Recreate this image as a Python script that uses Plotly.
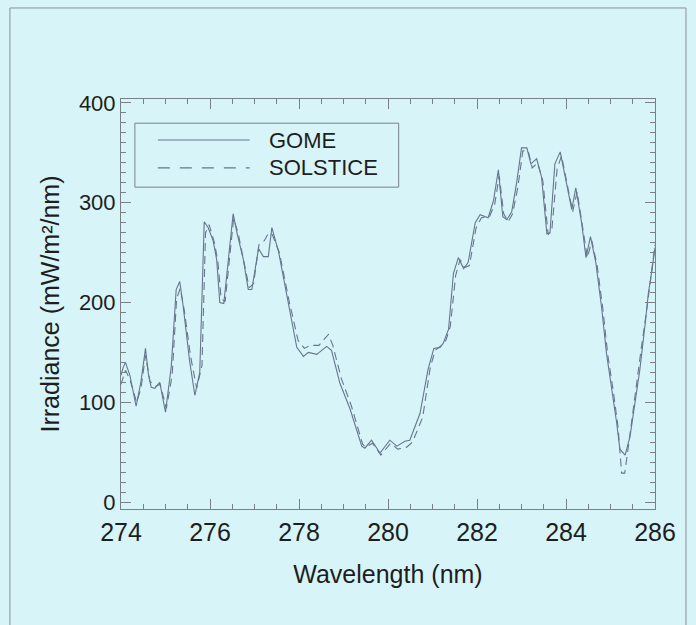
import plotly.graph_objects as go

# GOME solar irradiance spectrum
gome_wl = [274.00, 274.05, 274.10, 274.20, 274.34, 274.45, 274.55, 274.62, 274.68, 274.76,
           274.87, 275.00, 275.13, 275.24, 275.32, 275.39, 275.54, 275.66, 275.77, 275.84,
           275.87, 275.96, 276.07, 276.15, 276.22, 276.31, 276.52, 276.61, 276.75, 276.86,
           276.94, 277.09, 277.20, 277.31, 277.39, 277.54, 277.76, 277.95, 278.10, 278.21,
           278.40, 278.62, 278.73, 278.92, 279.15, 279.41, 279.48, 279.63, 279.82, 280.04,
           280.20, 280.38, 280.49, 280.72, 280.90, 281.03, 281.17, 281.24, 281.36, 281.47,
           281.58, 281.70, 281.80, 281.96, 282.07, 282.25, 282.37, 282.48, 282.58, 282.67,
           282.78, 282.89, 283.00, 283.12, 283.21, 283.34, 283.45, 283.57, 283.64, 283.75,
           283.87, 284.13, 284.22, 284.35, 284.45, 284.55, 284.67, 284.80, 284.91, 285.03,
           285.14, 285.21, 285.33, 285.44, 285.55, 285.66, 285.78, 285.85, 285.93, 286.00]
gome_irr = [127, 135, 140, 127, 96, 121, 154, 127, 115, 114,
            120, 90, 136, 213, 221, 199, 142, 107, 130, 253,
            281, 275, 262, 243, 200, 199, 289, 269, 243, 213,
            213, 254, 246, 246, 275, 251, 199, 155, 146, 150,
            148, 156, 152, 119, 93, 56, 54, 62, 49, 62,
            56, 61, 62, 89, 133, 154, 155, 159, 173, 229,
            245, 234, 240, 280, 288, 285, 302, 333, 286, 283,
            291, 320, 355, 355, 339, 344, 326, 269, 270, 339,
            351, 293, 315, 280, 245, 266, 240, 195, 149, 115,
            79, 53, 47, 66, 102, 133, 179, 209, 232, 255]

# SOLSTICE reference spectrum
sol_wl = [274.00, 274.10, 274.20, 274.35, 274.45, 274.55, 274.65, 274.78, 274.88, 275.02,
          275.15, 275.25, 275.33, 275.42, 275.56, 275.70, 275.82, 275.90, 275.98, 276.10,
          276.18, 276.25, 276.34, 276.53, 276.63, 276.77, 276.88, 276.98, 277.10, 277.22,
          277.32, 277.40, 277.56, 277.78, 277.98, 278.12, 278.25, 278.45, 278.66, 278.76,
          278.95, 279.18, 279.43, 279.50, 279.65, 279.84, 280.06, 280.22, 280.42, 280.55,
          280.78, 280.95, 281.06, 281.20, 281.30, 281.40, 281.52, 281.62, 281.72, 281.83,
          281.98, 282.10, 282.28, 282.40, 282.50, 282.60, 282.70, 282.80, 282.92, 283.03,
          283.15, 283.24, 283.36, 283.48, 283.60, 283.68, 283.80, 283.90, 284.15, 284.25,
          284.38, 284.48, 284.58, 284.70, 284.83, 284.94, 285.06, 285.17, 285.25, 285.32,
          285.40, 285.50, 285.60, 285.70, 285.80, 285.90, 286.00]
sol_irr = [118, 132, 123, 100, 114, 147, 121, 116, 118, 94,
           127, 204, 214, 193, 147, 114, 137, 270, 278, 260,
           240, 204, 201, 284, 270, 240, 215, 219, 258, 262,
           270, 268, 250, 201, 162, 154, 157, 157, 168, 157,
           124, 96, 58, 55, 59, 47, 59, 53, 55, 60,
           85, 135, 152, 157, 162, 176, 227, 243, 235, 237,
           275, 285, 286, 299, 327, 289, 281, 289, 316, 352,
           352, 335, 340, 322, 268, 272, 334, 347, 291, 311,
           275, 245, 262, 237, 193, 147, 112, 75, 29, 29,
           55, 91, 127, 157, 188, 224, 258]

series_names = ["GOME", "SOLSTICE"]
x_ticks = [274, 276, 278, 280, 282, 284, 286]
y_ticks = [0, 100, 200, 300, 400]

BG = "#d7f5f8"
LINE = "#66758c"
INK = "#1e1e1e"
AXIS = "#7a8088"
FONT = "Liberation Sans, Arial, Helvetica, sans-serif"

fig = go.Figure()
fig.add_trace(go.Scatter(x=gome_wl, y=gome_irr, mode="lines", name=series_names[0],
                         line=dict(color=LINE, width=1.1), showlegend=False))
fig.add_trace(go.Scatter(x=sol_wl, y=sol_irr, mode="lines", name=series_names[1],
                         line=dict(color=LINE, width=1.1, dash="8px,5px"), showlegend=False))

axis_common = dict(
    showgrid=False, zeroline=False, showline=True, linecolor=AXIS, linewidth=1,
    mirror="allticks", ticks="inside", tickcolor=AXIS, ticklen=10, tickwidth=1,
)

fig.update_xaxes(range=[274, 286], tickvals=x_ticks,
                 ticktext=[str(v) for v in x_ticks],
                 tickfont=dict(family=FONT, size=25, color=INK),
                 ticklabelstandoff=1,
                 minor=dict(dtick=0.5, ticks="inside", ticklen=5, tickcolor=AXIS, showgrid=False),
                 title=dict(text="Wavelength (nm)", font=dict(family=FONT, size=25, color=INK),
                            standoff=20),
                 **axis_common)
fig.update_yaxes(range=[-7, 404], tickvals=y_ticks,
                 ticktext=[str(v) for v in y_ticks],
                 tickfont=dict(family=FONT, size=22, color=INK),
                 minor=dict(tick0=0, dtick=10, ticks="inside", ticklen=5, tickcolor=AXIS,
                            showgrid=False),
                 title=dict(text="Irradiance (mW/m²/nm)", font=dict(family=FONT, size=25, color=INK),
                            standoff=12),
                 **axis_common)

# Legend drawn as a framed box with line samples
leg_x0, leg_x1 = 0.026, 0.520
leg_y0, leg_y1 = 0.785, 0.941
fig.add_shape(type="rect", xref="paper", yref="paper",
              x0=leg_x0, x1=leg_x1, y0=leg_y0, y1=leg_y1,
              line=dict(color=AXIS, width=1), fillcolor="rgba(0,0,0,0)")
sample_x0, sample_x1 = 0.069, 0.241
row_y = [0.900, 0.832]
dashes = ["solid", "12px,10px"]
for name, yy, dsh in zip(series_names, row_y, dashes):
    fig.add_shape(type="line", xref="paper", yref="paper",
                  x0=sample_x0, x1=sample_x1, y0=yy, y1=yy,
                  line=dict(color=LINE, width=1.1, dash=dsh))
    fig.add_annotation(xref="paper", yref="paper", x=0.274, y=yy, text=name,
                       showarrow=False, xanchor="left", yanchor="middle",
                       font=dict(family=FONT, size=22, color=INK))

# Outer frame around the panel
fig.add_shape(type="rect", xref="paper", yref="paper",
              x0=-0.208, x1=1.058, y0=-0.30, y1=1.222,
              line=dict(color="#8a8f96", width=1), fillcolor="rgba(0,0,0,0)")

fig.update_layout(
    width=696, height=625,
    margin=dict(l=121, r=41, t=99, b=116),
    paper_bgcolor=BG, plot_bgcolor=BG,
    font=dict(family=FONT, color=INK),
)

fig.write_html("out.html")
